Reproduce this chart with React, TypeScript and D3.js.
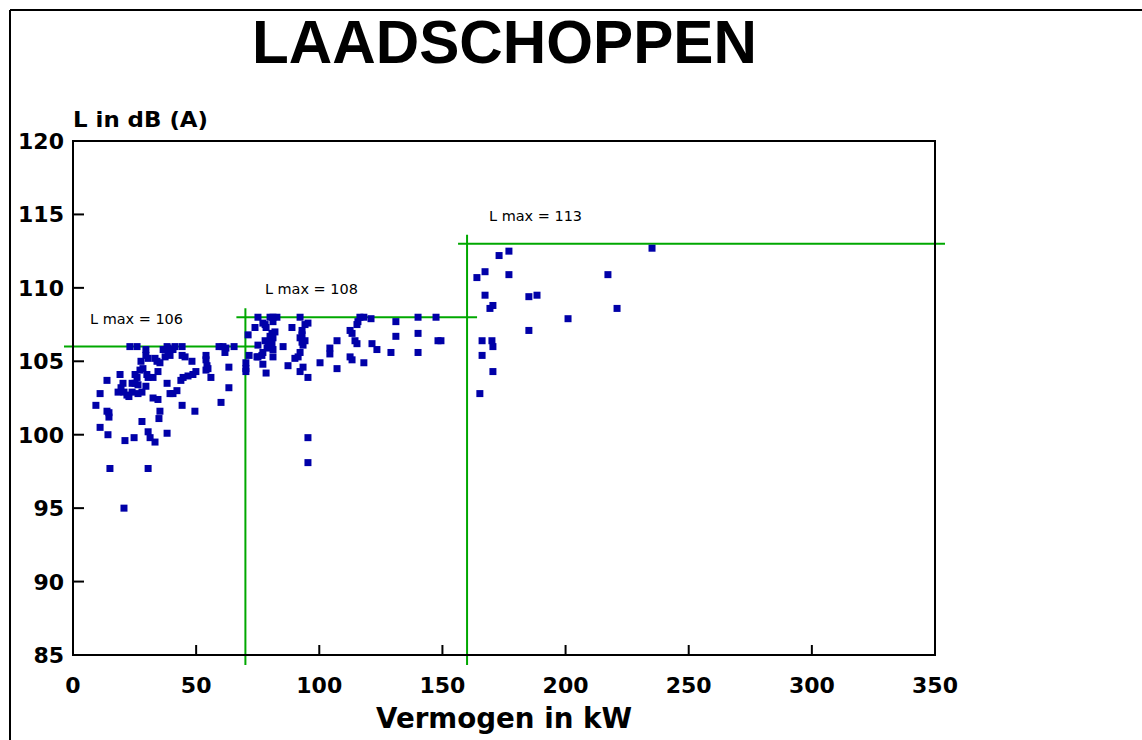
import React from 'react';
import * as d3 from 'd3';

// [vermogen kW, geluid dB(A)] per vermogensklasse
const klasse1Punten: [number, number][] = [
  [23.1, 106.0], [26.0, 106.0], [29.6, 105.8], [29.6, 105.4], [30.5, 105.2], [33.3, 105.2],
  [34.1, 105.0], [27.6, 105.0], [35.3, 104.9], [38.6, 105.9], [38.6, 105.6], [37.4, 105.3],
  [39.4, 105.4], [40.6, 105.8], [27.2, 104.4], [28.4, 104.5], [34.5, 104.3], [19.1, 104.1],
  [25.2, 104.1], [26.0, 103.9], [30.0, 104.1], [30.5, 103.9], [32.5, 103.9], [13.8, 103.7],
  [20.3, 103.5], [24.0, 103.5], [25.2, 103.5], [26.4, 103.4], [29.6, 103.3], [38.2, 103.5],
  [19.5, 103.2], [18.3, 102.9], [20.7, 102.9], [21.9, 102.7], [22.7, 102.6], [24.0, 102.9],
  [26.4, 102.8], [28.0, 102.9], [39.4, 102.8], [40.6, 102.8], [11.0, 102.8], [32.5, 102.5],
  [34.5, 102.4], [9.3, 102.0], [13.8, 101.6], [14.6, 101.5], [14.6, 101.2], [35.3, 101.6],
  [28.0, 100.9], [34.9, 101.1], [11.0, 100.5], [14.2, 100.0], [30.5, 100.2], [38.2, 100.1],
  [21.1, 99.6], [24.8, 99.8], [31.3, 99.8], [33.3, 99.5], [15.0, 97.7], [30.5, 97.7],
  [20.7, 95.0], [59.3, 106.0], [60.9, 106.0], [62.1, 105.9], [61.7, 105.6], [65.4, 106.0],
  [54.0, 105.4], [54.0, 105.1], [54.4, 104.7], [54.8, 104.5], [54.0, 104.4], [63.3, 104.6],
  [63.3, 103.2], [60.1, 102.2], [56.0, 103.9], [44.3, 105.4], [45.5, 105.3], [44.3, 106.0],
  [48.3, 105.0], [49.9, 104.3], [48.7, 104.1], [46.7, 104.0], [44.7, 103.9], [43.8, 103.7],
  [42.2, 103.0], [44.3, 102.0], [49.5, 101.6], [36.6, 105.8], [38.2, 106.0], [41.4, 106.0],
];

const klasse2Punten: [number, number][] = [
  [71.5, 105.4], [74.7, 105.3], [70.2, 104.9], [70.2, 104.5], [70.2, 104.3], [71.1, 106.8],
  [75.1, 108.0], [80.0, 108.0], [81.2, 108.0], [82.8, 108.0], [92.2, 108.0], [73.9, 107.3],
  [77.1, 107.6], [78.0, 107.5], [78.4, 107.3], [81.2, 107.7], [82.0, 107.0], [80.8, 106.9],
  [80.0, 106.7], [81.2, 106.6], [78.0, 106.4], [79.2, 106.3], [80.8, 106.2], [75.1, 106.1],
  [78.8, 105.9], [81.2, 105.8], [85.3, 106.0], [77.1, 105.6], [76.7, 105.4], [75.1, 105.3],
  [81.2, 105.3], [77.1, 104.8], [78.4, 104.2], [88.9, 107.3], [93.0, 107.1], [94.2, 107.5],
  [95.4, 107.6], [93.0, 106.8], [92.2, 106.6], [94.2, 106.4], [93.0, 106.3], [93.4, 106.1],
  [92.2, 105.6], [91.4, 105.3], [90.1, 105.2], [87.3, 104.7], [93.4, 104.6], [92.2, 104.3],
  [95.4, 103.9], [95.4, 99.8], [95.4, 98.1], [100.3, 104.9], [107.2, 106.4], [104.3, 105.9],
  [104.3, 105.5], [107.2, 104.5], [112.5, 107.1], [113.3, 106.9], [115.3, 107.5], [115.7, 107.7],
  [116.5, 108.0], [118.1, 108.0], [121.0, 107.9], [114.5, 106.4], [115.3, 106.2], [112.5, 105.3],
  [113.3, 105.1], [118.1, 104.9], [121.4, 106.2], [123.4, 105.8], [129.1, 105.6], [131.1, 107.7],
  [131.1, 106.7], [140.1, 108.0], [140.1, 106.9], [140.1, 105.6], [147.4, 108.0], [148.2, 106.4],
  [149.4, 106.4],
];

const klasse3Punten: [number, number][] = [
  [177.0, 112.5], [173.0, 112.2], [167.3, 111.1], [164.0, 110.7], [177.0, 110.9], [167.3, 109.5],
  [170.5, 108.8], [169.3, 108.6], [185.1, 109.4], [188.4, 109.5], [217.2, 110.9], [220.9, 108.6],
  [201.0, 107.9], [185.1, 107.1], [166.1, 106.4], [170.1, 106.4], [170.5, 106.0], [166.1, 105.4],
  [170.5, 104.3], [165.2, 102.8], [235.1, 112.7],
];

// vermogensklassen: van, tot, L max
const klasseVan = [0, 70, 160];
const klasseTot = [70, 160, 350];
const klasseLmax = [106, 108, 113];

const xTicks = [0, 50, 100, 150, 200, 250, 300, 350];
const yTicks = [85, 90, 95, 100, 105, 110, 115, 120];

const W = 1142;
const H = 740;
const plot = { left: 73, right: 935, top: 141, bottom: 655 };

const blauw = '#0000a8';
const groen = '#00a800';
const fontTekst = '"DejaVu Sans", Verdana, sans-serif';

export default function App() {
  const x = d3.scaleLinear().domain([0, 350]).range([plot.left, plot.right]);
  const y = d3.scaleLinear().domain([85, 120]).range([plot.bottom, plot.top]);

  const allePunten = [...klasse1Punten, ...klasse2Punten, ...klasse3Punten];
  const m = 7;

  return (
    <svg width={W} height={H} style={{ position: 'absolute', left: 0, top: 0, background: '#fff' }}>
      {/* buitenkader */}
      <line x1={10} y1={10} x2={W} y2={10} stroke="#000" strokeWidth={2} />
      <line x1={10} y1={10} x2={10} y2={H} stroke="#000" strokeWidth={2} />

      <text x={504.5} y={63} textAnchor="middle" fontFamily='"Liberation Sans", Arial, sans-serif'
        fontWeight="bold" fontSize={61} textLength={505} lengthAdjust="spacingAndGlyphs">LAADSCHOPPEN</text>

      <text x={73} y={127} fontFamily={fontTekst} fontWeight="bold" fontSize={22}
        textLength={135} lengthAdjust="spacingAndGlyphs">L in dB (A)</text>

      {/* groene grenslijnen */}
      {klasseLmax.map((lv, i) => {
        const volgende = klasseLmax[i + 1];
        const laatste = i === klasseLmax.length - 1;
        return (
          <g key={i} stroke={groen} strokeWidth={2}>
            <line x1={x(klasseVan[i]) - 9} x2={x(klasseTot[i]) + 10} y1={y(lv)} y2={y(lv)} />
            <line x1={x(klasseTot[i])} x2={x(klasseTot[i])}
              y1={laatste ? y(lv) - 9 : y(volgende) - 9}
              y2={laatste ? y(lv) + 8 : plot.bottom + 10} />
          </g>
        );
      })}

      {/* assenkader */}
      <rect x={plot.left} y={plot.top} width={plot.right - plot.left} height={plot.bottom - plot.top}
        fill="none" stroke="#000" strokeWidth={2} />

      {xTicks.map(t => (
        <g key={'x' + t}>
          <line x1={x(t)} x2={x(t)} y1={plot.bottom} y2={plot.bottom - 10} stroke="#000" strokeWidth={2} />
          <text x={x(t)} y={693} textAnchor="middle" fontFamily={fontTekst} fontWeight="bold" fontSize={22}>{t}</text>
        </g>
      ))}
      {yTicks.map(t => (
        <g key={'y' + t}>
          <line x1={plot.left} x2={plot.left + 11} y1={y(t)} y2={y(t)} stroke="#000" strokeWidth={2} />
          <text x={plot.left - 9} y={y(t) + 8} textAnchor="end" fontFamily={fontTekst} fontWeight="bold" fontSize={22}>{t}</text>
        </g>
      ))}

      {allePunten.map((p, i) => (
        <rect key={i} x={x(p[0]) - m / 2} y={y(p[1]) - m / 2} width={m} height={m} fill={blauw} />
      ))}

      {klasseLmax.map((lv, i) => (
        <text key={'l' + i} x={x(klasseVan[i]) + 17 + 2.5 * i} y={y(lv) - 23} fontFamily={fontTekst} fontSize={14}
          textLength={93} lengthAdjust="spacingAndGlyphs">{`L max = ${lv}`}</text>
      ))}

      <text x={504} y={728} textAnchor="middle" fontFamily={fontTekst} fontWeight="bold" fontSize={28}
        textLength={256} lengthAdjust="spacingAndGlyphs">Vermogen in kW</text>
    </svg>
  );
}
